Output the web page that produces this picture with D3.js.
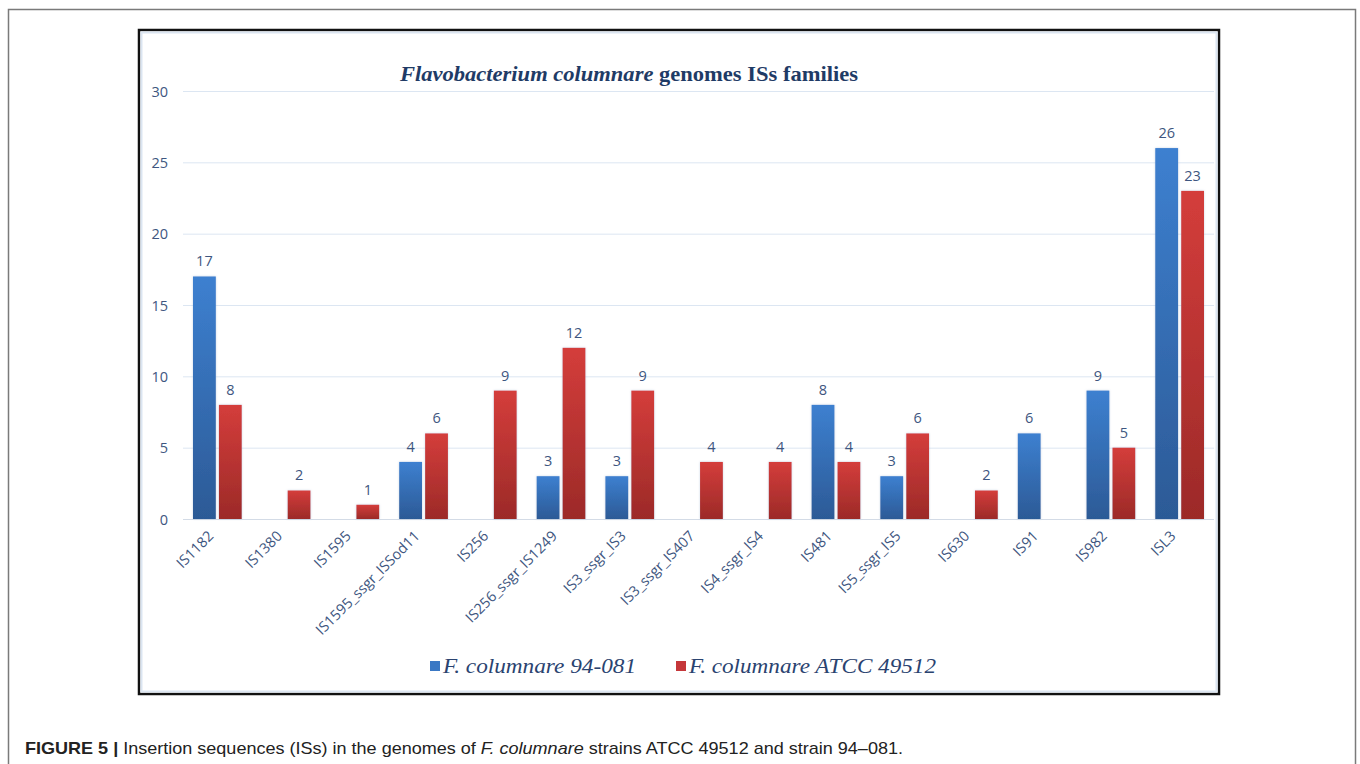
<!DOCTYPE html>
<html>
<head>
<meta charset="utf-8">
<script src="https://cdn.jsdelivr.net/npm/d3@7"></script>
<style>
  html, body { margin: 0; padding: 0; background: #fff; }
  svg { display: block; }
</style>
</head>
<body>
<svg id="fig" width="1360" height="764"></svg>
<script>
// IS families found in the two Flavobacterium columnare genomes
const categories = [
  "IS1182", "IS1380", "IS1595", "IS1595_ssgr_ISSod11", "IS256",
  "IS256_ssgr_IS1249", "IS3_ssgr_IS3", "IS3_ssgr_IS407", "IS4_ssgr_IS4",
  "IS481", "IS5_ssgr_IS5", "IS630", "IS91", "IS982", "ISL3"
];
const seriesNames = ["F. columnare 94-081", "F. columnare ATCC 49512"];
const strain94081 = [17, null, null, 4, null, 3, 3, null, null, 8, 3, null, 6, 9, 26];
const strainATCC  = [8, 2, 1, 6, 9, 12, 9, 4, 4, 4, 6, 2, null, 5, 23];
const yTicks = [0, 5, 10, 15, 20, 25, 30];

const svg = d3.select("#fig");
const defs = svg.append("defs");

// vertical gradients for the two series
const grads = [
  { id: "gBlue", top: "#3d80d0", bottom: "#2c5a96" },
  { id: "gRed",  top: "#d43d3b", bottom: "#9c2a28" }
];
grads.forEach(g => {
  const lg = defs.append("linearGradient").attr("id", g.id)
    .attr("x1", 0).attr("y1", 0).attr("x2", 0).attr("y2", 1);
  lg.append("stop").attr("offset", "0%").attr("stop-color", g.top);
  lg.append("stop").attr("offset", "100%").attr("stop-color", g.bottom);
});
const shadow = defs.append("filter").attr("id", "soft")
  .attr("x", "-20%").attr("y", "-20%").attr("width", "140%").attr("height", "140%");
shadow.append("feDropShadow").attr("dx", 0).attr("dy", 0)
  .attr("stdDeviation", 1.2).attr("flood-color", "#8aa3c4").attr("flood-opacity", 0.45);

// outer figure frame
svg.append("rect").attr("x", 8.5).attr("y", 9.5).attr("width", 1347).attr("height", 770)
  .attr("fill", "none").attr("stroke", "#7a7a7a").attr("stroke-width", 1.5);

// chart box: black border with a pale inner rim
svg.append("rect").attr("x", 139).attr("y", 30).attr("width", 1080).attr("height", 664)
  .attr("fill", "#fff").attr("stroke", "#111").attr("stroke-width", 2.5);
svg.append("rect").attr("x", 141.5).attr("y", 32.5).attr("width", 1075).attr("height", 659)
  .attr("fill", "none").attr("stroke", "#dbe5f1").attr("stroke-width", 2);

const plot = { left: 183, right: 1214, top: 91, bottom: 519 };

const y = d3.scaleLinear().domain([0, 30]).range([plot.bottom, plot.top]);
const x = d3.scaleBand().domain(categories).range([plot.left, plot.right]).padding(0);
const xs = d3.scaleBand().domain([0, 1])
  .range([10, x.bandwidth() - 10]).paddingInner(0.12).paddingOuter(0);

const labelColor = "#3e5680";

// horizontal gridlines
const grid = d3.axisLeft(y).tickValues(yTicks).tickSize(-(plot.right - plot.left)).tickFormat("");
svg.append("g").attr("transform", `translate(${plot.left},0)`).call(grid)
  .call(g => g.select(".domain").remove())
  .call(g => g.selectAll("line").attr("stroke", "#dce6f2").attr("stroke-width", 1));

// y tick labels
const yAxis = d3.axisLeft(y).tickValues(yTicks).tickSize(0).tickPadding(15);
svg.append("g").attr("transform", `translate(${plot.left},0)`).call(yAxis)
  .call(g => g.select(".domain").remove())
  .call(g => g.selectAll("text")
    .attr("fill", labelColor).attr("font-family", "'Open Sans', sans-serif")
    .attr("font-size", 14.5).attr("dy", "0.35em"));

// baseline
svg.append("line").attr("x1", plot.left).attr("x2", plot.right)
  .attr("y1", y(0) + 0.5).attr("y2", y(0) + 0.5)
  .attr("stroke", "#d3dbe6").attr("stroke-width", 1);

// x axis category labels, rotated
const xAxis = d3.axisBottom(x).tickSize(0).tickPadding(0);
svg.append("g").attr("transform", `translate(0,${plot.bottom})`).call(xAxis)
  .call(g => g.select(".domain").remove())
  .call(g => g.selectAll("text")
    .attr("fill", labelColor).attr("font-family", "'Open Sans', sans-serif")
    .attr("font-size", 14.5).attr("text-anchor", "end")
    .attr("dy", "0")
    .attr("transform", "translate(-3,18) rotate(-45)"));

// bars
const series = [strain94081, strainATCC];
series.forEach((vals, si) => {
  const rows = categories.map((c, i) => ({ c, v: vals[i] })).filter(d => d.v != null);
  const g = svg.append("g");
  g.selectAll("rect").data(rows).join("rect")
    .attr("x", d => x(d.c) + xs(si))
    .attr("width", xs.bandwidth())
    .attr("y", d => y(d.v))
    .attr("height", d => y(0) - y(d.v))
    .attr("fill", `url(#${grads[si].id})`)
    .attr("filter", "url(#soft)");
  g.selectAll("text").data(rows).join("text")
    .attr("x", d => x(d.c) + xs(si) + xs.bandwidth() / 2)
    .attr("y", d => y(d.v) - 10)
    .attr("text-anchor", "middle")
    .attr("fill", labelColor).attr("font-family", "'Open Sans', sans-serif")
    .attr("font-size", 14.5)
    .text(d => d.v);
});

// title
const title = svg.append("text").attr("x", 629).attr("y", 81).attr("text-anchor", "middle")
  .attr("font-family", "'Liberation Serif', 'Times New Roman', serif")
  .attr("font-size", 21.5).attr("font-weight", "bold").attr("fill", "#1f3b66")
  .attr("textLength", 458).attr("lengthAdjust", "spacingAndGlyphs");
title.append("tspan").attr("font-style", "italic").text("Flavobacterium columnare");
title.append("tspan").text(" genomes ISs families");

// legend
const legendItems = [
  { name: seriesNames[0], color: "#3a78c4", x: 430, w: 193 },
  { name: seriesNames[1], color: "#c5373a", x: 676, w: 247 }
];
const lg = svg.append("g");
legendItems.forEach(it => {
  lg.append("rect").attr("x", it.x).attr("y", 661).attr("width", 10).attr("height", 10)
    .attr("fill", it.color);
  lg.append("text").attr("x", it.x + 13).attr("y", 673)
    .attr("font-family", "'Liberation Serif', 'Times New Roman', serif")
    .attr("font-style", "italic").attr("font-size", 22).attr("fill", "#2a4370")
    .attr("textLength", it.w).attr("lengthAdjust", "spacingAndGlyphs")
    .text(it.name);
});

// figure caption
const cap = svg.append("text").attr("x", 25).attr("y", 754)
  .attr("font-family", "'Liberation Sans', Arial, sans-serif")
  .attr("font-size", 17).attr("fill", "#222")
  .attr("textLength", 878).attr("lengthAdjust", "spacingAndGlyphs");
cap.append("tspan").attr("font-weight", "bold").text("FIGURE 5 | ");
cap.append("tspan").text("Insertion sequences (ISs) in the genomes of ");
cap.append("tspan").attr("font-style", "italic").text("F. columnare");
cap.append("tspan").text(" strains ATCC 49512 and strain 94–081.");
</script>
</body>
</html>
